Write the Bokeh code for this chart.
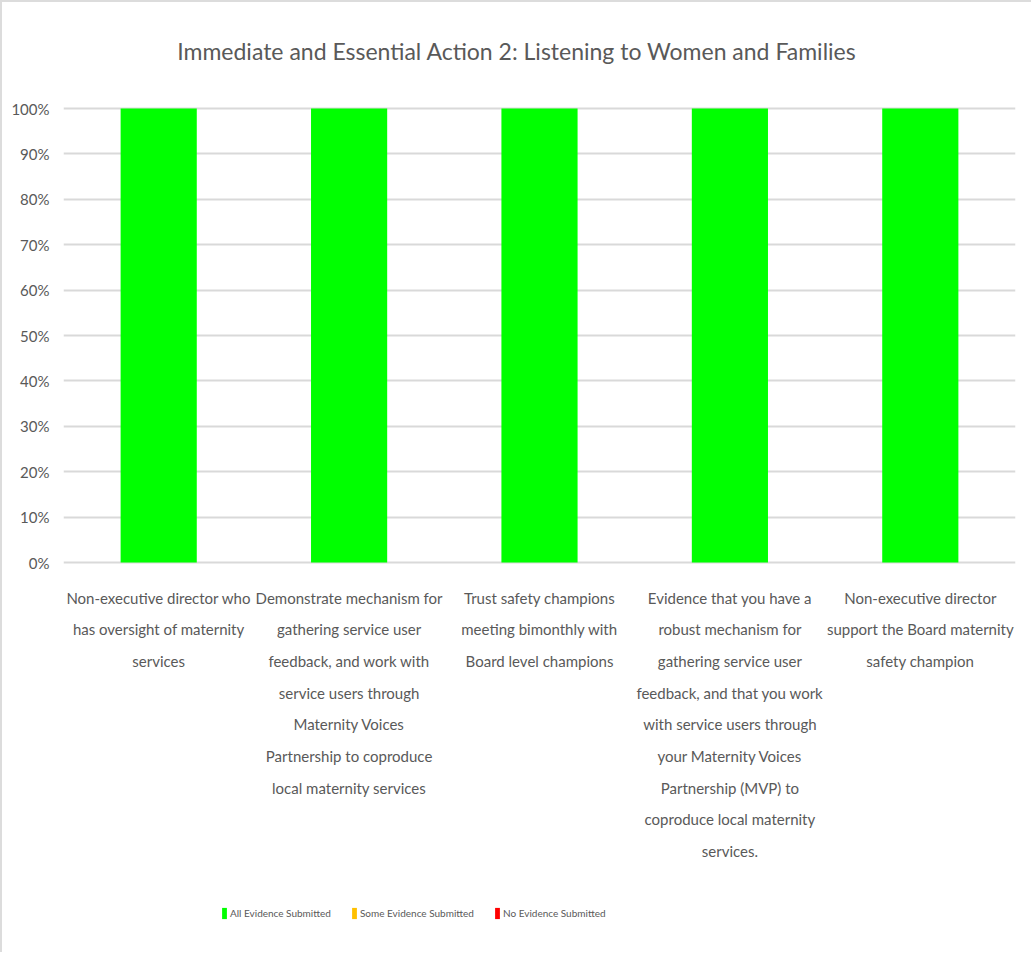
from bokeh.plotting import figure
from bokeh.models import FactorRange, Range1d, FixedTicker, NumeralTickFormatter, Legend, LegendItem, Label
from bokeh.core.properties import value
from bokeh.embed import file_html
from bokeh.resources import INLINE

# Chart data
title_text = "Immediate and Essential Action 2: Listening to Women and Families"
categories = ["c1", "c2", "c3", "c4", "c5"]
category_labels = [
    "Non-executive director who\nhas oversight of maternity\nservices",
    "Demonstrate mechanism for\ngathering service user\nfeedback, and work with\nservice users through\nMaternity Voices\nPartnership to coproduce\nlocal maternity services",
    "Trust safety champions\nmeeting bimonthly with\nBoard level champions",
    "Evidence that you have a\nrobust mechanism for\ngathering service user\nfeedback, and that you work\nwith service users through\nyour Maternity Voices\nPartnership (MVP) to\ncoproduce local maternity\nservices.",
    "Non-executive director\nsupport the Board maternity\nsafety champion",
]
all_evidence = [1.0, 1.0, 1.0, 1.0, 1.0]
some_evidence = [0.0, 0.0, 0.0, 0.0, 0.0]
no_evidence = [0.0, 0.0, 0.0, 0.0, 0.0]
series_names = ["All Evidence Submitted", "Some Evidence Submitted", "No Evidence Submitted"]
series_colors = ["#00ff00", "#ffc000", "#ff0000"]
y_ticks = [0.0, 0.1, 0.2, 0.3, 0.4, 0.5, 0.6, 0.7, 0.8, 0.9, 1.0]

FONT = "Lato"
GREY = "#595959"

# canvas geometry (pixels)
W, H = 1031, 952
frame_left, frame_right = 61, 1013
top_px = 106      # pixel row of 100%
zero_px = 560     # pixel row of 0%
px_per_unit = zero_px - top_px
y_start = -(H - zero_px) / px_per_unit
y_end = 1.0 + top_px / px_per_unit

def y_at(px):
    return (zero_px - px) / px_per_unit

p = figure(
    width=W, height=H,
    x_range=FactorRange(*categories),
    y_range=Range1d(y_start, y_end),
    output_backend="svg", toolbar_location=None,
    min_border_left=frame_left, min_border_right=W - frame_right,
    min_border_top=0, min_border_bottom=0,
    x_axis_location=None,
)
p.styles = {"border-left": "2px solid #dcdcdc", "border-top": "2px solid #dcdcdc"}
p.outline_line_color = None
p.background_fill_color = "white"
p.border_fill_color = "white"

# y axis: percentage labels only
yax = p.yaxis[0]
yax.ticker = FixedTicker(ticks=y_ticks)
yax.formatter = NumeralTickFormatter(format="0%")
yax.axis_line_color = None
yax.major_tick_line_color = None
yax.minor_tick_line_color = None
yax.major_label_text_font = FONT
yax.major_label_text_font_size = "15px"
yax.major_label_text_color = GREY
yax.major_label_standoff = 8

p.xgrid.grid_line_color = None
p.ygrid.ticker = FixedTicker(ticks=y_ticks)
p.ygrid.grid_line_color = "#d9d9d9"
p.ygrid.grid_line_width = 2

data = {"cat": categories, "all": all_evidence, "some": some_evidence, "none": no_evidence}
renderers = p.vbar_stack(["all", "some", "none"], x="cat", width=0.4, source=data,
                         color=series_colors, line_color=None)

# chart title, centred across the full canvas width
title_x = (W / 2 - 1 - frame_left) / (frame_right - frame_left) * len(categories)
p.add_layout(Label(x=title_x, y=y_at(48), text=title_text,
                   text_align="center", text_baseline="middle",
                   text_font=FONT, text_font_size="23px", text_color=GREY))

# category labels under the bars
p.text(x=categories, y=[y_at(586)] * len(categories), text=category_labels,
       text_align="center", text_baseline="top", text_line_height=1.76,
       text_font=value(FONT), text_font_size="15px", text_color=GREY)

legend = Legend(
    items=[LegendItem(label=n, renderers=[r]) for n, r in zip(series_names, renderers)],
    orientation="horizontal", location=(158, 34),
    glyph_width=6, glyph_height=14, label_standoff=3, spacing=20,
    padding=0, margin=0, border_line_color=None, background_fill_alpha=0,
    label_text_font=FONT, label_text_font_size="10px", label_text_color=GREY,
)
p.add_layout(legend, "center")

open("out.html", "w").write(file_html(p, INLINE))
